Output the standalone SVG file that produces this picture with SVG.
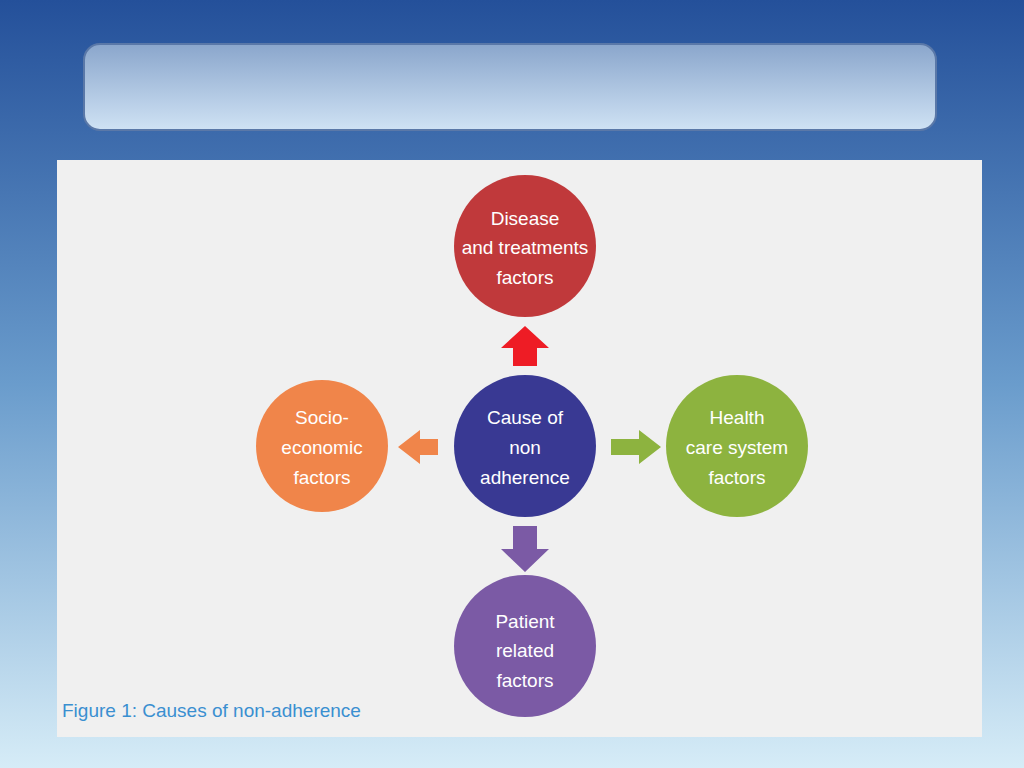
<svg xmlns="http://www.w3.org/2000/svg" width="1024" height="768" viewBox="0 0 1024 768">
<defs>
<linearGradient id="bg" x1="0" y1="0" x2="0" y2="1"><stop offset="0" stop-color="#24509a"/><stop offset="0.5" stop-color="#6a9ccc"/><stop offset="1" stop-color="#d6ecf7"/></linearGradient>
<linearGradient id="bar" x1="0" y1="0" x2="0" y2="1"><stop offset="0" stop-color="#8aa6cc"/><stop offset="1" stop-color="#cfe2f4"/></linearGradient>
<style>.t{font-family:"Liberation Sans",Arial,sans-serif;font-size:19px;fill:#fff;text-anchor:middle}</style>
</defs>
<rect width="1024" height="768" fill="url(#bg)"/>
<rect x="84" y="44" width="852" height="86" rx="16" fill="url(#bar)" stroke="#5a78a8" stroke-width="2"/>
<rect x="57" y="160" width="925" height="577" fill="#f0f0f0"/>
<g id="connectors">
<polygon points="525,326 549,348 537,348 537,366 513,366 513,348 501,348" fill="#ee1c25"/>
<polygon points="398,447 420,430 420,439 438,439 438,455 420,455 420,464" fill="#f0854a"/>
<polygon points="661,447 639,430 639,439 611,439 611,455 639,455 639,464" fill="#8db33f"/>
<polygon points="525,572 549,549 537,549 537,526 513,526 513,549 501,549" fill="#7b5aa5"/>
</g>
<g id="center"><circle cx="525" cy="446" r="71" fill="#393993"/><text class="t" x="525" y="424">Cause of</text><text class="t" x="525" y="454">non</text><text class="t" x="525" y="484">adherence</text></g>
<g id="top"><circle cx="525" cy="246" r="71" fill="#c0393b"/><text class="t" x="525" y="225">Disease</text><text class="t" x="525" y="254">and treatments</text><text class="t" x="525" y="284">factors</text></g>
<g id="left"><circle cx="322" cy="446" r="66" fill="#f0854a"/><text class="t" x="322" y="424">Socio-</text><text class="t" x="322" y="454">economic</text><text class="t" x="322" y="484">factors</text></g>
<g id="right"><circle cx="737" cy="446" r="71" fill="#8db33f"/><text class="t" x="737" y="424">Health</text><text class="t" x="737" y="454">care system</text><text class="t" x="737" y="484">factors</text></g>
<g id="bottom"><circle cx="525" cy="646" r="71" fill="#7b5aa5"/><text class="t" x="525" y="628">Patient</text><text class="t" x="525" y="657">related</text><text class="t" x="525" y="687">factors</text></g>
<text x="62" y="717" font-family="Liberation Sans Narrow,Liberation Sans,sans-serif" font-size="19" fill="#3a8fd0">Figure 1: Causes of non-adherence</text>
</svg>
